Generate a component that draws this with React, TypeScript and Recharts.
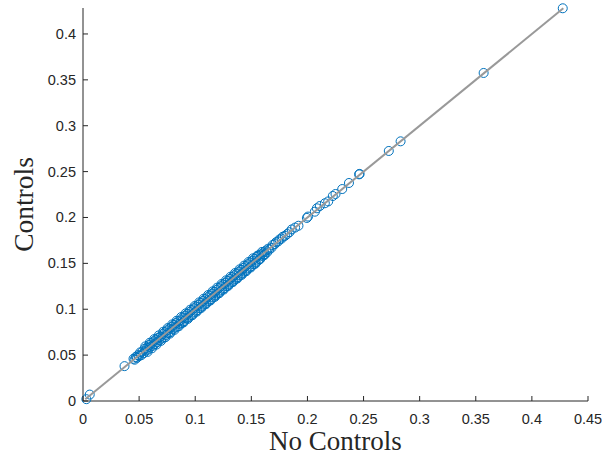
import React from 'react';
import { ScatterChart, Scatter, XAxis, YAxis } from 'recharts';

// "No Controls" estimates (x) and "Controls" estimates (y)
const noControls: number[] = [
  0.003, 0.006, 0.037,
  0.045, 0.046, 0.047, 0.048, 0.049, 0.050, 0.051, 0.052, 0.053, 0.054, 0.055, 0.056, 0.057, 0.058, 0.059, 0.060,
  0.061, 0.062, 0.063, 0.064, 0.065, 0.066, 0.067, 0.068, 0.069, 0.070, 0.071, 0.072, 0.073, 0.074, 0.075, 0.076,
  0.077, 0.078, 0.079, 0.080, 0.081, 0.082, 0.083, 0.084, 0.085, 0.086, 0.087, 0.088, 0.089, 0.090, 0.091, 0.092,
  0.093, 0.094, 0.095, 0.096, 0.097, 0.098, 0.099, 0.100, 0.101, 0.102, 0.103, 0.104, 0.105, 0.106, 0.107, 0.108,
  0.109, 0.110, 0.111, 0.112, 0.113, 0.114, 0.115, 0.116, 0.117, 0.118, 0.119, 0.120, 0.121, 0.122, 0.123, 0.124,
  0.125, 0.126, 0.127, 0.128, 0.129, 0.130, 0.131, 0.132, 0.133, 0.134, 0.135, 0.136, 0.137, 0.138, 0.139, 0.140,
  0.141, 0.142, 0.143, 0.144, 0.145, 0.146, 0.147, 0.148, 0.149, 0.150, 0.151, 0.152, 0.153, 0.154, 0.155, 0.156,
  0.157, 0.158, 0.159, 0.160, 0.161, 0.162, 0.163, 0.164, 0.165, 0.166, 0.168, 0.169, 0.171, 0.172, 0.174, 0.175,
  0.177, 0.178, 0.180, 0.182, 0.184, 0.186, 0.189, 0.192,
  0.0555, 0.0575, 0.0595, 0.0615, 0.0635, 0.0655, 0.0675, 0.0695, 0.0715, 0.0735, 0.0755, 0.0775, 0.0795, 0.0815,
  0.0835, 0.0855, 0.0875, 0.0895, 0.0915, 0.0935, 0.0955, 0.0975, 0.0995, 0.1015, 0.1035, 0.1055, 0.1075, 0.1095,
  0.1115, 0.1135, 0.1155, 0.1175, 0.1195, 0.1215, 0.1235, 0.1255, 0.1275, 0.1295, 0.1315, 0.1335, 0.1355, 0.1375,
  0.1395, 0.1415, 0.1435, 0.1455, 0.1475, 0.1495, 0.1515, 0.1535, 0.1555, 0.1575, 0.1595, 0.1615,
  0.1995, 0.2005, 0.2066, 0.2084, 0.211, 0.2155, 0.2185, 0.2226, 0.225, 0.231, 0.237, 0.246, 0.2465,
  0.2725, 0.283, 0.357, 0.4275,
];

const controls: number[] = [
  0.002, 0.007, 0.038,
  0.046, 0.045, 0.048, 0.047, 0.050, 0.049, 0.053, 0.050, 0.054, 0.052, 0.057, 0.055, 0.058, 0.056, 0.061, 0.059,
  0.063, 0.060, 0.065, 0.062, 0.067, 0.064, 0.069, 0.066, 0.070, 0.068, 0.073, 0.069, 0.075, 0.072, 0.077, 0.074,
  0.079, 0.075, 0.081, 0.078, 0.083, 0.080, 0.085, 0.081, 0.087, 0.084, 0.088, 0.085, 0.091, 0.087, 0.093, 0.090,
  0.095, 0.091, 0.097, 0.093, 0.099, 0.095, 0.101, 0.097, 0.103, 0.099, 0.105, 0.101, 0.107, 0.103, 0.109, 0.105,
  0.111, 0.107, 0.113, 0.109, 0.115, 0.111, 0.117, 0.113, 0.119, 0.115, 0.121, 0.117, 0.123, 0.119, 0.125, 0.121,
  0.127, 0.123, 0.129, 0.125, 0.131, 0.127, 0.133, 0.129, 0.135, 0.131, 0.137, 0.133, 0.139, 0.135, 0.141, 0.137,
  0.143, 0.139, 0.145, 0.141, 0.147, 0.143, 0.149, 0.145, 0.151, 0.147, 0.153, 0.149, 0.155, 0.151, 0.157, 0.153,
  0.159, 0.155, 0.160, 0.158, 0.162, 0.160, 0.164, 0.162, 0.166, 0.165, 0.167, 0.170, 0.171, 0.173, 0.174, 0.176,
  0.177, 0.179, 0.180, 0.182, 0.184, 0.187, 0.189, 0.191,
  0.0595, 0.0535, 0.0635, 0.0575, 0.0675, 0.0615, 0.0715, 0.0655, 0.0755, 0.0695, 0.0795, 0.0735, 0.0835, 0.0775,
  0.0875, 0.0815, 0.0915, 0.0855, 0.0955, 0.0895, 0.0995, 0.0935, 0.1035, 0.0975, 0.1075, 0.1015, 0.1115, 0.1055,
  0.1155, 0.1095, 0.1195, 0.1135, 0.1235, 0.1175, 0.1275, 0.1215, 0.1315, 0.1255, 0.1355, 0.1295, 0.1395, 0.1335,
  0.1435, 0.1375, 0.1475, 0.1415, 0.1515, 0.1455, 0.1555, 0.1495, 0.1585, 0.1545, 0.1625, 0.1590,
  0.1995, 0.2010, 0.2063, 0.2100, 0.2125, 0.2155, 0.2175, 0.2234, 0.2256, 0.231, 0.2376, 0.247, 0.2475,
  0.2725, 0.283, 0.3575, 0.428,
];

// 45-degree reference line end points
const lineEnds: number[] = [0.002, 0.428];

const xTicks: number[] = [0, 0.05, 0.1, 0.15, 0.2, 0.25, 0.3, 0.35, 0.4, 0.45];
const yTicks: number[] = [0, 0.05, 0.1, 0.15, 0.2, 0.25, 0.3, 0.35, 0.4];

const points = noControls.map((x, i) => ({ x, y: controls[i] }));
const linePts = lineEnds.map((v) => ({ x: v, y: v }));

const AXIS = '#262626';
const TICK_FONT = '"Liberation Sans", Arial, sans-serif';
const LABEL_FONT = '"Liberation Serif", "Times New Roman", serif';

const fmt = (v: number) => String(v);

const XTick = (props: any) => {
  const { x, y, payload } = props;
  return (
    <g>
      <line x1={x} x2={x} y1={y} y2={y - 5} stroke={AXIS} strokeWidth={1} />
      <text x={x} y={y + 23} textAnchor="middle" fill={AXIS} fontFamily={TICK_FONT} fontSize={14.5}>
        {fmt(payload.value)}
      </text>
    </g>
  );
};

const YTick = (props: any) => {
  const { x, y, payload } = props;
  return (
    <g>
      <line x1={x} x2={x + 5} y1={y} y2={y} stroke={AXIS} strokeWidth={1} />
      <text x={x - 7} y={y + 5} textAnchor="end" fill={AXIS} fontFamily={TICK_FONT} fontSize={14.5}>
        {fmt(payload.value)}
      </text>
    </g>
  );
};

const Circle = (props: any) => {
  const { cx, cy } = props;
  if (cx == null || cy == null) return null;
  return <circle cx={cx} cy={cy} r={4.5} fill="none" stroke="#0072BD" strokeWidth={1} />;
};

const NoShape = () => null;

export default function App() {
  return (
    <div style={{ position: 'absolute', top: 0, left: 0, width: 602, height: 455, background: '#fff' }}>
      <ScatterChart width={602} height={455} margin={{ top: 8, right: 14, bottom: 0, left: 0 }} style={{ overflow: 'visible' }}>
        <XAxis
          type="number"
          dataKey="x"
          domain={[0, 0.45]}
          ticks={xTicks}
          height={54}
          tickSize={0}
          tickMargin={0}
          tickLine={false}
          axisLine={{ stroke: AXIS, strokeWidth: 1 }}
          tick={<XTick />}
          interval={0}
          label={{
            content: (p: any) => {
              const vb = p.viewBox;
              return (
                <text x={vb.x + vb.width / 2} y={vb.y + 49} textAnchor="middle" fill={AXIS} fontFamily={LABEL_FONT} fontSize={27}>
                  No Controls
                </text>
              );
            },
          }}
        />
        <YAxis
          type="number"
          dataKey="y"
          domain={[0, 0.4283]}
          ticks={yTicks}
          width={83}
          tickSize={0}
          tickMargin={0}
          tickLine={false}
          axisLine={{ stroke: AXIS, strokeWidth: 1 }}
          tick={<YTick />}
          interval={0}
          label={{
            content: (p: any) => {
              const vb = p.viewBox;
              const cy = vb.y + vb.height / 2;
              return (
                <text x={0} y={0} transform={`translate(33, ${cy}) rotate(-90)`} textAnchor="middle" fill={AXIS} fontFamily={LABEL_FONT} fontSize={27.5}>
                  Controls
                </text>
              );
            },
          }}
        />
        <Scatter data={points} shape={<Circle />} isAnimationActive={false} />
        <Scatter data={linePts} line={{ stroke: '#999999', strokeWidth: 2 }} shape={<NoShape />} isAnimationActive={false} />
      </ScatterChart>
    </div>
  );
}
